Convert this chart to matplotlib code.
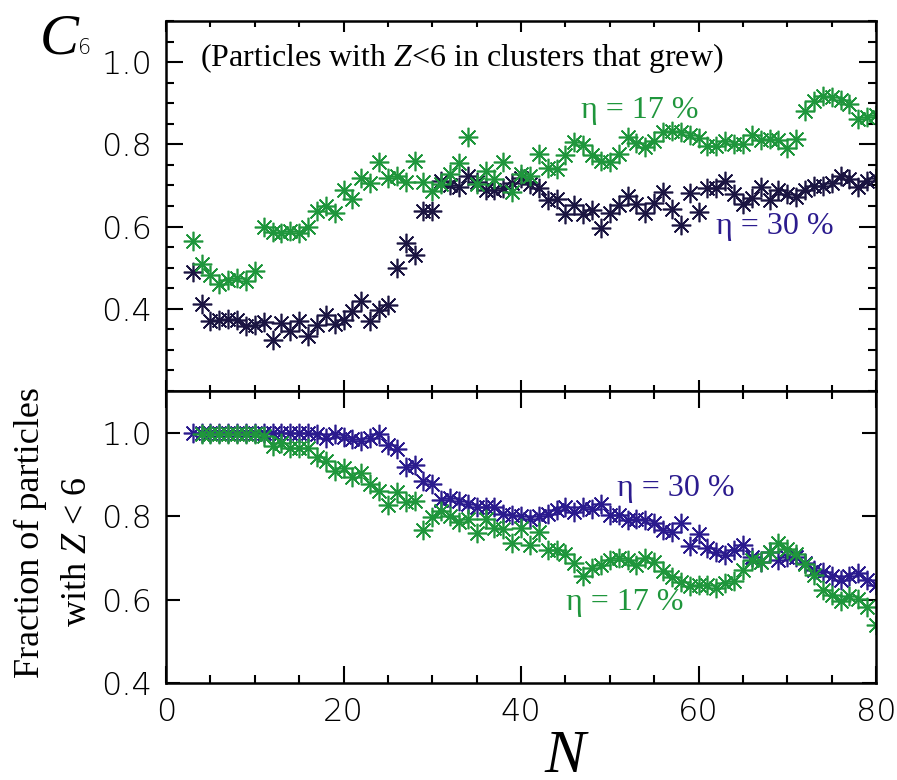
import numpy as np
import matplotlib
matplotlib.use('Agg')
import matplotlib.pyplot as plt
from matplotlib.ticker import MultipleLocator

plt.rcParams['mathtext.fontset'] = 'custom'
plt.rcParams['mathtext.it'] = 'Liberation Serif:italic'
plt.rcParams['mathtext.rm'] = 'Liberation Serif'

# C6 for particles with Z<6 in clusters that grew
n_top = list(range(3, 81))
c6_17 = [0.564, 0.510, 0.483, 0.461, 0.471, 0.475, 0.467, 0.491, 0.599, 0.587,
         0.584, 0.588, 0.584, 0.599, 0.637, 0.649, 0.633, 0.689, 0.667, 0.718,
         0.707, 0.756, 0.718, 0.722, 0.708, 0.759, 0.708, 0.687, 0.704, 0.728,
         0.755, 0.817, 0.703, 0.734, 0.716, 0.756, 0.685, 0.727, 0.724, 0.777,
         0.742, 0.741, 0.774, 0.806, 0.798, 0.774, 0.760, 0.757, 0.776, 0.817,
         0.803, 0.794, 0.809, 0.830, 0.833, 0.831, 0.823, 0.815, 0.796, 0.796,
         0.809, 0.802, 0.800, 0.822, 0.811, 0.813, 0.811, 0.790, 0.813, 0.881,
         0.905, 0.917, 0.914, 0.907, 0.899, 0.862, 0.867, 0.872]
c6_30 = [0.490, 0.412, 0.370, 0.372, 0.374, 0.372, 0.358, 0.360, 0.368, 0.324,
         0.365, 0.346, 0.370, 0.334, 0.360, 0.386, 0.362, 0.372, 0.394, 0.419,
         0.370, 0.398, 0.409, 0.500, 0.561, 0.531, 0.638, 0.637, 0.711, 0.701,
         0.697, 0.722, 0.708, 0.689, 0.689, 0.693, 0.705, 0.718, 0.704, 0.694,
         0.665, 0.668, 0.630, 0.653, 0.630, 0.640, 0.596, 0.634, 0.652, 0.675,
         0.655, 0.632, 0.658, 0.685, 0.643, 0.604, 0.682, 0.635, 0.694, 0.694,
         0.710, 0.678, 0.655, 0.669, 0.697, 0.665, 0.690, 0.680, 0.671, 0.690,
         0.698, 0.698, 0.706, 0.724, 0.715, 0.697, 0.711, 0.718]

# fraction of particles with Z<6
n_b30 = list(range(3, 81))
frac_30 = [1.0, 1.0, 1.0, 1.0, 1.0, 1.0, 1.0, 1.0, 1.0, 1.0,
           1.0, 1.0, 1.0, 1.0, 0.998, 0.988, 0.996, 0.990, 0.985, 0.979,
           0.987, 0.996, 0.971, 0.960, 0.919, 0.922, 0.885, 0.876, 0.838, 0.843,
           0.836, 0.830, 0.821, 0.822, 0.823, 0.806, 0.802, 0.800, 0.792, 0.800,
           0.806, 0.815, 0.822, 0.810, 0.822, 0.817, 0.830, 0.803, 0.802, 0.790,
           0.792, 0.790, 0.784, 0.766, 0.762, 0.784, 0.729, 0.758, 0.723, 0.714,
           0.707, 0.720, 0.732, 0.701, 0.691, 0.713, 0.695, 0.703, 0.701, 0.687,
           0.672, 0.666, 0.657, 0.646, 0.656, 0.664, 0.646, 0.634]
n_b17 = list(range(4, 81))
frac_17 = [0.998, 0.998, 0.998, 0.998, 0.998, 0.998, 0.998, 0.992, 0.968, 0.976,
           0.964, 0.964, 0.964, 0.941, 0.931, 0.908, 0.915, 0.895, 0.903, 0.876,
           0.860, 0.826, 0.858, 0.834, 0.836, 0.766, 0.798, 0.813, 0.800, 0.786,
           0.792, 0.760, 0.792, 0.772, 0.768, 0.735, 0.772, 0.731, 0.763, 0.719,
           0.719, 0.709, 0.687, 0.657, 0.676, 0.683, 0.696, 0.700, 0.696, 0.682,
           0.700, 0.689, 0.668, 0.655, 0.642, 0.633, 0.635, 0.636, 0.627, 0.640,
           0.644, 0.670, 0.695, 0.689, 0.713, 0.735, 0.721, 0.709, 0.685, 0.660,
           0.623, 0.610, 0.596, 0.608, 0.601, 0.581, 0.539]

green = '#1f963c'
navy_dark = '#1b1542'
navy = '#2b1b8e'
serif = 'Liberation Serif'
tickfont = 'DejaVu Sans'

fig = plt.figure(figsize=(8.97, 7.8), dpi=100)
ax1 = fig.add_axes([166/897, 1-391/780, 710/897, 370/780])
ax2 = fig.add_axes([166/897, 1-683/780, 710/897, 292/780])

mk = dict(marker=(8, 2, 0), linestyle='none', markersize=14, markeredgewidth=1.2)

ax1.plot(n_top, c6_30, color=navy_dark, **mk)
ax1.plot(n_top, c6_17, color=green, **mk)
ax2.plot(n_b30, frac_30, color=navy, **mk)
ax2.plot(n_b17, frac_17, color=green, **mk)

for ax in (ax1, ax2):
    ax.set_xlim(0, 80)
    ax.xaxis.set_major_locator(MultipleLocator(20))
    ax.xaxis.set_minor_locator(MultipleLocator(5))
    ax.tick_params(which='both', direction='in', top=True, right=True, width=1.5)
    ax.tick_params(which='major', length=8, labelsize=23, pad=10)
    ax.tick_params(which='minor', length=4)
    for s in ax.spines.values():
        s.set_linewidth(1.8)

ax1.set_ylim(0.2, 1.1)
ax1.set_yticks([0.4, 0.6, 0.8, 1.0])
ax1.set_yticklabels(['0.4', '0.6', '0.8', '1.0'], family=tickfont, weight='light')
ax1.yaxis.set_minor_locator(MultipleLocator(0.05))
ax1.tick_params(axis='y', which='major', length=12)
ax1.tick_params(axis='y', which='minor', length=6)
ax1.tick_params(labelbottom=False)

ax2.set_ylim(0.4, 1.1)
ax2.set_yticks([0.4, 0.6, 0.8, 1.0])
ax2.set_yticklabels(['0.4', '0.6', '0.8', '1.0'], family=tickfont, weight='light')
ax2.tick_params(axis='y', which='major', length=10)
ax2.set_xticks([0, 20, 40, 60, 80])
ax2.set_xticklabels(['0', '20', '40', '60', '80'], family=tickfont, weight='light')
ax2.tick_params(axis='x', which='major', length=12)
ax2.tick_params(axis='x', which='minor', length=6)

ax1.text(3.83, 0.99, '(Particles with $\\mathit{Z}$<6 in clusters that grew)',
         family=serif, fontsize=23, va='baseline')
ax1.text(46.8, 0.864, 'η = 17 %', color=green, family=serif, fontsize=23, va='baseline')
ax1.text(62.0, 0.582, 'η = 30 %', color=navy, family=serif, fontsize=23, va='baseline')
ax2.text(50.8, 0.849, 'η = 30 %', color=navy, family=serif, fontsize=23, va='baseline')
ax2.text(45.1, 0.576, 'η = 17 %', color=green, family=serif, fontsize=23, va='baseline')

fig.text(40/897, 1-53/780, 'C', family=serif, style='italic', fontsize=42, va='baseline')
fig.text(78/897, 1-54/780, '6', family=tickfont, weight='light', fontsize=15, va='baseline')
fig.text(565/897, 1-772/780, 'N', family=serif, style='italic', fontsize=44,
         va='baseline', ha='center')
fig.text(30/897, 1-533/780, 'Fraction of particles', family=serif, fontsize=26,
         rotation=90, va='center', ha='center')
fig.text(77/897, 1-552/780, 'with $\\mathit{Z}$ < 6', family=serif, fontsize=26,
         rotation=90, va='center', ha='center')

fig.savefig('out.png', dpi=100)
